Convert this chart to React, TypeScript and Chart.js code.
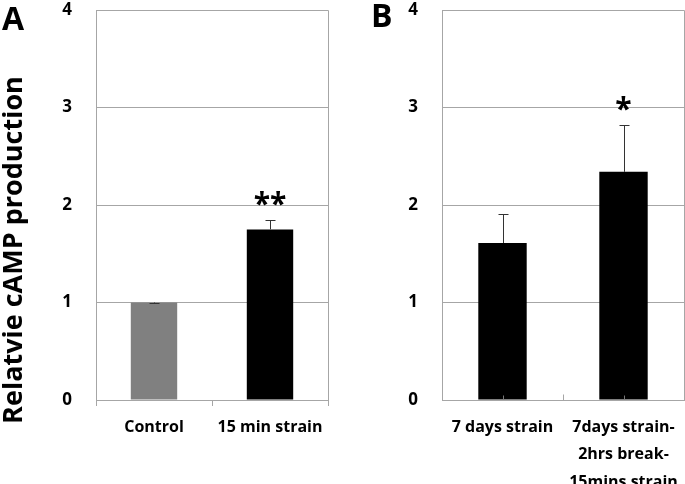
import React, { useEffect, useRef } from "react";
import { Chart, registerables } from "chart.js";

Chart.register(...registerables);

// ---- data ----
const panelALabels: (string | string[])[] = ["Control", "15 min strain"];
const panelAValues = [1.0, 1.75];
const panelAErrors = [0, 0.1];
const panelAColors = ["#808080", "#000000"];
const panelAStars = ["", "**"];

const panelBLabels: (string | string[])[] = [
  "7 days strain",
  ["7days strain-", "2hrs break-", "15mins strain"],
];
const panelBValues = [1.61, 2.34];
const panelBErrors = [0.3, 0.48];
const panelBColors = ["#000000", "#000000"];
const panelBStars = ["", "*"];

const yMin = 0;
const yMax = 4;
const yStep = 1;
const yTitle = "Relatvie cAMP production";

const FONT = "'Open Sans', sans-serif";
const GRID = "#a6a6a6";

const annotPlugin = {
  id: "annot",
  afterDatasetsDraw(chart: any, _args: any, opts: any) {
    const { ctx, chartArea } = chart;
    const y = chart.scales.y;
    const x = chart.scales.x;
    const meta = chart.getDatasetMeta(0);
    ctx.save();
    ctx.strokeStyle = GRID;
    ctx.lineWidth = 1;
    const r = Math.round(chartArea.right) + 0.5;
    const t = Math.round(chartArea.top) + 0.5;
    const b = Math.round(chartArea.bottom) + 0.5;
    const l = Math.round(chartArea.left) + 0.5;
    ctx.beginPath();
    ctx.moveTo(r, t);
    ctx.lineTo(r, b);
    ctx.moveTo(l, t);
    ctx.lineTo(r, t);
    ctx.stroke();

    if (opts.innerTicks) {
      const n = x.ticks.length;
      for (let i = 0; i < n - 1; i++) {
        const px = Math.round((x.getPixelForValue(i) + x.getPixelForValue(i + 1)) / 2) + 0.5;
        ctx.strokeStyle = GRID;
        ctx.beginPath();
        ctx.moveTo(px, b);
        ctx.lineTo(px, b - 6);
        ctx.stroke();
      }
      for (let i = 0; i < n; i++) {
        const px = Math.round(x.getPixelForValue(i)) + 0.5;
        ctx.strokeStyle = "#777777";
        ctx.beginPath();
        ctx.moveTo(px, b - 1);
        ctx.lineTo(px, b - 5);
        ctx.stroke();
      }
    }

    const values: number[] = opts.values;
    const errors: number[] = opts.errors;
    const stars: string[] = opts.stars;
    meta.data.forEach((bar: any, i: number) => {
      const cx = Math.round(bar.x) + 0.5;
      const yBar = y.getPixelForValue(values[i]);
      const yTop = Math.round(y.getPixelForValue(values[i] + errors[i])) + 0.5;
      ctx.strokeStyle = "#333333";
      ctx.lineWidth = 1;
      ctx.beginPath();
      ctx.moveTo(cx, yBar);
      ctx.lineTo(cx, yTop);
      ctx.moveTo(cx - 5, yTop);
      ctx.lineTo(cx + 5, yTop);
      ctx.stroke();
      if (stars[i]) {
        ctx.font = `bold 30px ${FONT}`;
        ctx.fillStyle = "#000000";
        ctx.textAlign = "center";
        ctx.textBaseline = "alphabetic";
        const m = ctx.measureText(stars[i]);
        const asc = m.actualBoundingBoxAscent;
        const desc = m.actualBoundingBoxDescent;
        const centerY = yTop - 22;
        const baseline = centerY + (asc - desc) / 2;
        ctx.fillText(stars[i], bar.x, baseline);
      }
    });
    ctx.restore();
  },
};

function makeChart(
  canvas: HTMLCanvasElement,
  labels: (string | string[])[],
  values: number[],
  errors: number[],
  colors: string[],
  stars: string[],
  yAxisWidth: number,
  padRight: number,
  innerTicks: boolean
) {
  return new Chart(canvas, {
    type: "bar",
    data: {
      labels,
      datasets: [
        {
          data: values,
          backgroundColor: colors,
          borderWidth: 0,
          categoryPercentage: 1,
          barPercentage: 0.4,
        },
      ],
    },
    plugins: [annotPlugin],
    options: {
      responsive: false,
      animation: false,
      devicePixelRatio: 1,
      layout: { padding: { left: 0, top: 10, right: padRight, bottom: 0 } },
      plugins: {
        legend: { display: false },
        tooltip: { enabled: false },
        annot: { values, errors, stars, innerTicks },
      } as any,
      scales: {
        x: {
          afterFit: (s: any) => {
            s.height = 84;
            s.paddingLeft = 0;
            s.paddingRight = 0;
          },
          border: { color: GRID, width: 1 },
          grid: {
            display: true,
            drawOnChartArea: false,
            drawTicks: !innerTicks,
            tickLength: 6,
            color: GRID,
            offset: true,
          },
          ticks: {
            color: "#000000",
            padding: innerTicks ? 14 : 8,
            maxRotation: 0,
            autoSkip: false,
            font: { family: FONT, size: 16, weight: "bold", lineHeight: 1.7 },
          },
        },
        y: {
          min: yMin,
          max: yMax,
          afterFit: (s: any) => {
            s.width = yAxisWidth;
            s.paddingTop = 0;
            s.paddingBottom = 0;
          },
          border: { color: GRID, width: 1 },
          grid: { color: GRID, drawTicks: false, lineWidth: 1 },
          ticks: {
            stepSize: yStep,
            color: "#000000",
            padding: 24,
            font: { family: FONT, size: 17, weight: "bold" },
          },
        },
      },
    } as any,
  });
}

export default function App() {
  const refA = useRef<HTMLCanvasElement>(null);
  const refB = useRef<HTMLCanvasElement>(null);

  useEffect(() => {
    document.body.style.margin = "0";
    const a = makeChart(refA.current!, panelALabels, panelAValues, panelAErrors, panelAColors, panelAStars, 96, 12, false);
    const b = makeChart(refB.current!, panelBLabels, panelBValues, panelBErrors, panelBColors, panelBStars, 102, 1, true);
    return () => {
      a.destroy();
      b.destroy();
    };
  }, []);

  const letter: React.CSSProperties = {
    position: "absolute",
    fontFamily: FONT,
    fontWeight: 700,
    fontSize: 32,
    lineHeight: "32px",
    color: "#000",
  };

  return (
    <div style={{ position: "relative", width: 685, height: 484, overflow: "hidden", background: "#fff" }}>
      <canvas ref={refA} width={340} height={484} style={{ position: "absolute", left: 0, top: 0, width: 340, height: 484 }} />
      <canvas ref={refB} width={345} height={484} style={{ position: "absolute", left: 340, top: 0, width: 345, height: 484 }} />
      <div style={{ ...letter, left: 2, top: 2 }}>A</div>
      <div style={{ ...letter, left: 371, top: -1 }}>B</div>
      <div
        style={{
          position: "absolute",
          left: 12,
          top: 250,
          transform: "translate(-50%, -50%) rotate(-90deg)",
          whiteSpace: "nowrap",
          fontFamily: FONT,
          fontWeight: 700,
          fontSize: 27,
          lineHeight: "28px",
          color: "#000",
        }}
      >
        {yTitle}
      </div>
    </div>
  );
}
